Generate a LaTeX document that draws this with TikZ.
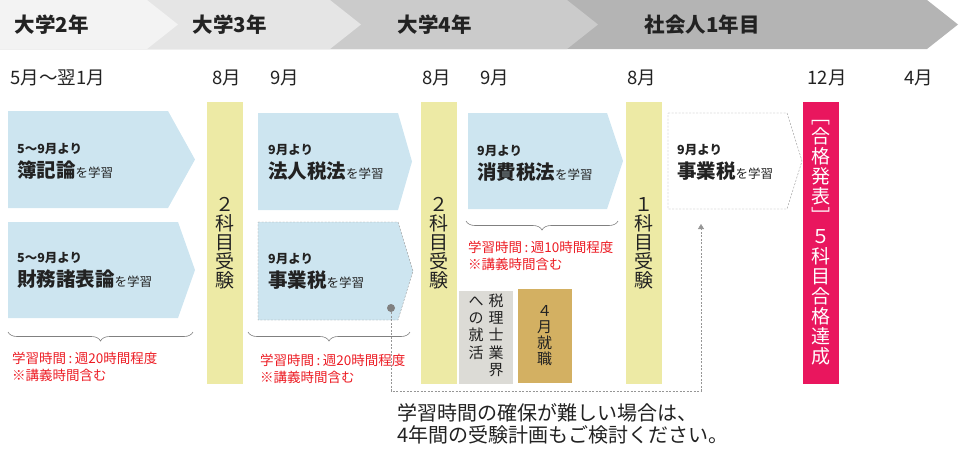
\documentclass[tikz,border=0pt]{standalone}
\usepackage{fontspec}
\setmainfont{Noto Sans CJK JP}
\usetikzlibrary{positioning,decorations.pathreplacing,arrows.meta}

\definecolor{yearA}{RGB}{243,243,243}
\definecolor{yearB}{RGB}{229,229,229}
\definecolor{yearC}{RGB}{203,203,203}
\definecolor{yearD}{RGB}{180,180,180}
\definecolor{studyblue}{RGB}{205,229,240}
\definecolor{examyellow}{RGB}{237,234,165}
\definecolor{jobgray}{RGB}{220,219,214}
\definecolor{jobgold}{RGB}{211,176,98}
\definecolor{passpink}{RGB}{233,22,94}
\definecolor{hoursred}{RGB}{236,28,36}
\definecolor{textdark}{RGB}{34,34,34}
\definecolor{linegray}{RGB}{150,150,150}
\definecolor{dotgray}{RGB}{128,128,128}

\newcommand\subjfont{\fontsize{19.5}{24}\selectfont\bfseries}
\newcommand\whenfont{\fontsize{12.5}{24}\selectfont\bfseries}
\newcommand\hourscolon{\kern2.5pt:\kern2.5pt}

\tikzset{year label/.style={anchor=west,font=\fontsize{20.5}{22}\selectfont\bfseries,text=textdark},
         month label/.style={anchor=west,font=\fontsize{18.5}{20}\selectfont,text=textdark},
         study box/.style={fill=studyblue},
         study text/.style={anchor=west,align=left,inner sep=0pt,text=textdark,font=\fontsize{12.5}{24}\selectfont},
         hours text/.style={anchor=west,align=left,inner sep=0pt,text=hoursred,font=\fontsize{13.5}{17}\selectfont},
         exam bar/.style={rectangle,fill=examyellow,minimum width=36pt,minimum height=282pt,inner sep=0pt,
                          align=center,text=textdark,font=\fontsize{19}{19}\selectfont},
         job box/.style={rectangle,minimum width=54pt,minimum height=93pt,inner sep=0pt,
                         align=center,text=textdark,font=\fontsize{15}{16}\selectfont},
         time brace/.style={decorate,decoration={brace,mirror,amplitude=9pt},draw=dotgray,semithick},
         dash line/.style={draw=linegray,dash pattern=on 2pt off 1.5pt},
         dot/.style={circle,fill=dotgray,inner sep=0pt,minimum size=8pt},
            }

\begin{document}
\begin{tikzpicture}[x=1pt,y=-1pt]
    \useasboundingbox (0,0) rectangle (960,451);

    % year bar
    \foreach \xe/\col in {927/yearD,567/yearC,330/yearB,147/yearA}
        \fill[\col] (0,0) -- (\xe,0) -- (\xe+31,24.5) -- (\xe,49) -- (0,49) -- cycle;
    \node[year label] (year2) at (11,25) {大学2年};
    \node[year label] (year3) at (189,25) {大学3年};
    \node[year label] (year4) at (394,25) {大学4年};
    \node[year label] (work1) at (641,25) {社会人1年目};

    % months
    \foreach \x/\m [count=\i] in {7/5月～翌1月,209/8月,267/9月,419/8月,477/9月,624/8月,804/12月,901/4月}
        \node[month label] (month\i) at (\x,78) {\m};

    % study periods
    \fill[study box] (8,111) -- (168,111) -- (195,159.5) -- (168,208) -- (8,208) -- cycle;
    \fill[study box] (8,222) -- (178,222) -- (195,270) -- (178,318) -- (8,318) -- cycle;
    \fill[study box] (258,113) -- (398,113) -- (412,161.5) -- (398,210) -- (258,210) -- cycle;
    \filldraw[study box,dash line] (258,222) -- (398,222) -- (413,271) -- (398,320) -- (258,320) -- cycle;
    \fill[study box] (468,113) -- (607,113) -- (623,161) -- (607,209) -- (468,209) -- cycle;
    \draw[dash line] (668,113) -- (787,113) -- (802,161) -- (787,209) -- (668,209) -- cycle;

    \node[study text] (boki) at (17,161) {{\whenfont 5～9月より}\\{\subjfont 簿記論}を学習};
    \node[study text] (zaimu) at (17,270) {{\whenfont 5～9月より}\\{\subjfont 財務諸表論}を学習};
    \node[study text] (houjin) at (268,162) {{\whenfont 9月より}\\{\subjfont 法人税法}を学習};
    \node[study text] (jigyou) at (268,271) {{\whenfont 9月より}\\{\subjfont 事業税}を学習};
    \node[study text] (shouhi) at (477,163) {{\whenfont 9月より}\\{\subjfont 消費税法}を学習};
    \node[study text] (jigyou next box) at (677,162) {{\whenfont 9月より}\\{\subjfont 事業税}を学習};

    % weekly hours
    \draw[time brace] (8,332) -- (193,332);
    \draw[time brace] (248,332) -- (410,332);
    \draw[time brace] (466,221) -- (618,221);
    \node[hours text] (hours1) at (12,366.5) {学習時間\hourscolon 週20時間程度\\※講義時間含む};
    \node[hours text] (hours2) at (260,368.5) {学習時間\hourscolon 週20時間程度\\※講義時間含む};
    \node[hours text] (hours3) at (468,255.5) {学習時間\hourscolon 週10時間程度\\※講義時間含む};

    % exams
    \node[exam bar] (exam1) at (225,243) {２\\科\\目\\受\\験};
    \node[exam bar] (exam2) at (438.5,243) {２\\科\\目\\受\\験};
    \node[exam bar] (exam3) at (643.5,243) {１\\科\\目\\受\\験};
    \node[exam bar,fill=passpink,text=white,font=\fontsize{19}{20}\selectfont] (pass) at (820.5,243)
        {﹇\\合\\格\\発\\表\\﹈\\５\\科\\目\\合\\格\\達\\成};

    % jobs
    \node[job box,fill=jobgray] (jobhunt) at (486,337)
        {\begin{tabular}{@{}c@{\hspace{5pt}}c@{}}へ&税\\の&理\\就&士\\活&業\\&界\end{tabular}};
    \node[job box,fill=jobgold,minimum height=94pt] (hired) at (544.5,336) {４\\月\\就\\職};

    % postponed subject
    \node[dot] (jigyou dot) at (391,308) {};
    \coordinate (detour) at (391,391);
    \coordinate (jigyou next) at (701,224);
    \draw[dash line,-{Triangle[width=6pt,length=5pt]}] (jigyou dot) -- (detour) -| (jigyou next);

    \node[anchor=west,align=left,inner sep=0pt,text=textdark,font=\fontsize{20}{22}\selectfont] (advice) at (397,424)
        {学習時間の確保が難しい場合は、\\4年間の受験計画もご検討ください。};

\end{tikzpicture}
\end{document}
